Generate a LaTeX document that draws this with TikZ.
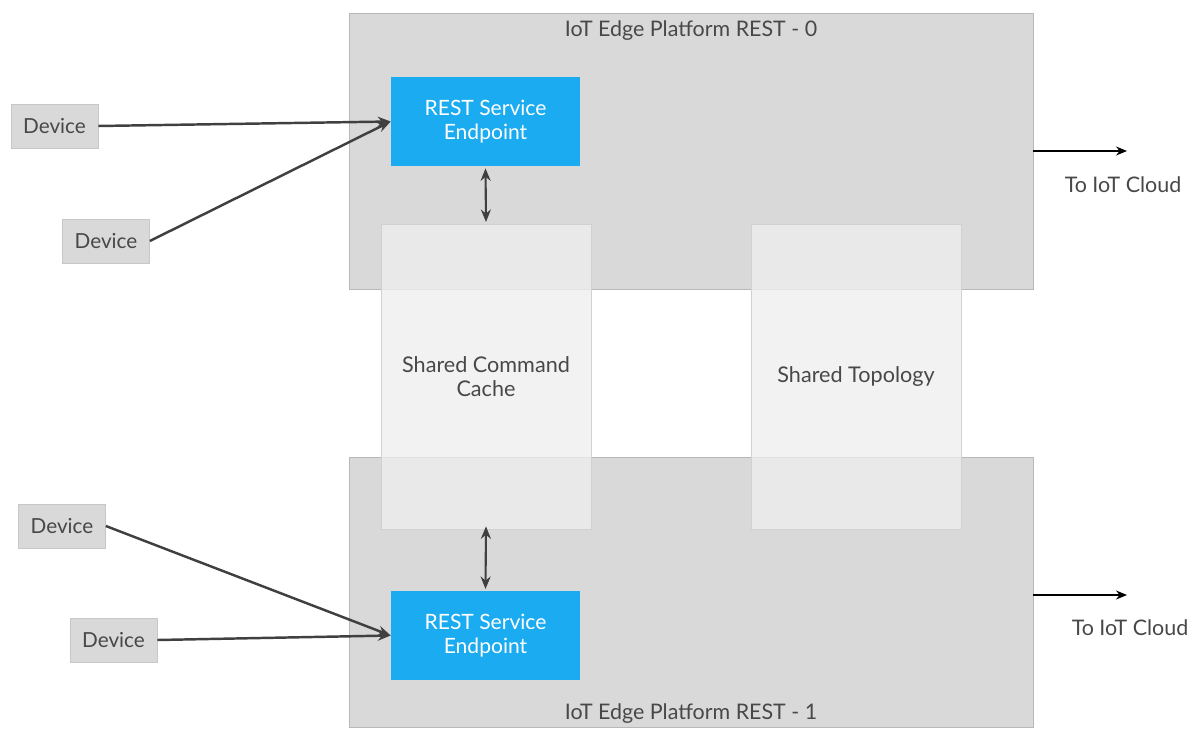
\documentclass[tikz,border=0pt]{standalone}
\usepackage{fontspec}
\setmainfont{Lato}
\usetikzlibrary{positioning,arrows.meta}
\definecolor{PlatformGray}{RGB}{217,217,217}
\definecolor{SharedGray}{RGB}{238,238,238}
\definecolor{EndpointBlue}{RGB}{26,171,240}
\definecolor{TextGray}{RGB}{72,72,72}
\definecolor{LineGray}{RGB}{64,64,64}
\tikzset{
  platform/.style={fill=PlatformGray,draw=PlatformGray!85!black,line width=0.4pt,
    minimum width=13.68cm,inner sep=0pt},
  endpoint/.style={fill=EndpointBlue,text=white,minimum width=3.78cm,
    minimum height=1.78cm,align=center,font=\fontsize{12}{14}\selectfont},
  shared/.style={fill=SharedGray,fill opacity=0.79,text opacity=1,draw=black!18,
    line width=0.4pt,minimum width=4.2cm,minimum height=6.1cm,align=center,
    text=TextGray,font=\fontsize{12.3}{14}\selectfont},
  device/.style={fill=PlatformGray,draw=black!22,line width=0.4pt,
    minimum width=1.74cm,minimum height=0.88cm,text=TextGray,font=\fontsize{11.8}{13}\selectfont},
  title/.style={text=TextGray,font=\fontsize{12.2}{14}\selectfont},
  feed/.style={-{Stealth[length=2.6mm,width=2mm]},line width=1.4pt,draw=LineGray},
  link/.style={{Stealth[length=2.5mm,width=2mm]}-{Stealth[length=2.5mm,width=2mm]},
    line width=1.2pt,draw=LineGray},
  uplink/.style={-{Stealth[length=2.2mm,width=1.8mm]},line width=0.9pt,draw=black}
}

\begin{document}
\begin{tikzpicture}[x=0.02cm,y=-0.02cm]
  \useasboundingbox (0,0) rectangle (1192,729);

  % platforms
  \node[platform,minimum height=5.52cm] (plat0) at (691,151) {};
  \node[platform,minimum height=5.4cm] (plat1) at (691,592) {};
  \node[title] (title0) at (691,31) {IoT Edge Platform REST - 0};
  \node[title] (title1) at (691,714) {IoT Edge Platform REST - 1};

  % endpoints
  \node[endpoint] (rest0) at (485.5,121.5) {REST Service\\Endpoint};
  \node[endpoint] (rest1) at (485.5,635.5) {REST Service\\Endpoint};

  % shared stores
  \node[shared] (cache) at (486,376.5) {Shared Command\\Cache};
  \node[shared] (topo) at (856,376.5) {Shared Topology};

  % devices
  \node[device] (dev1) at (54.5,126) {Device};
  \node[device] (dev2) at (106,241) {Device};
  \node[device] (dev3) at (62,526) {Device};
  \node[device] (dev4) at (113.5,640) {Device};

  \draw[feed] (dev1.east) -- (rest0.west);
  \draw[feed] (dev2.east) -- (rest0.west);
  \draw[feed] (dev3.east) -- (rest1.west);
  \draw[feed] (dev4.east) -- (rest1.west);

  \draw[link] (rest0.south) ++(0,2) coordinate (c0) (c0) -- (cache.north |- 0,222);
  \draw[link] (cache.south) ++(0,-3) coordinate (c1) (c1) -- (rest1.north |- 0,589);

  % cloud
  \coordinate (cloud0) at (1127,151);
  \coordinate (cloud1) at (1127,595);
  \draw[uplink] (plat0.east |- cloud0) -- (cloud0);
  \draw[uplink] (plat1.east |- cloud1) -- (cloud1);
  \node[title] (lbl0) at (1123,185) {To IoT Cloud};
  \node[title] (lbl1) at (1130,628) {To IoT Cloud};
\end{tikzpicture}
\end{document}
